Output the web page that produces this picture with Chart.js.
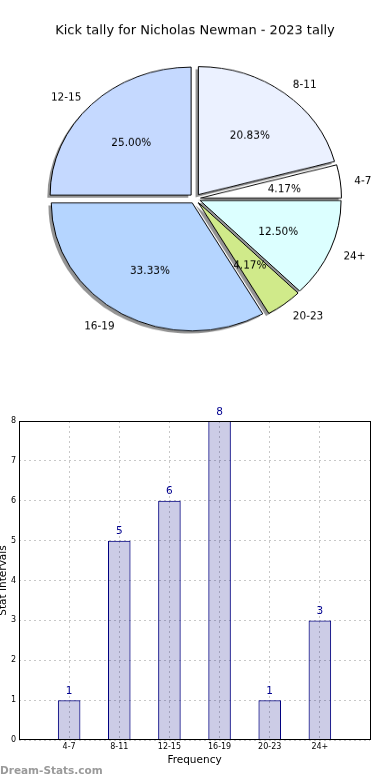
<!DOCTYPE html>
<html>
<head>
<meta charset="utf-8">
<script src="https://cdn.jsdelivr.net/npm/chart.js@4.4.1/dist/chart.umd.min.js"></script>
<style>
  html, body { margin: 0; padding: 0; background: #fff; width: 390px; height: 780px; overflow: hidden; position: relative; }
  #pieWrap { position: absolute; left: 0; top: 17.4px; width: 390px; height: 400px; transform: scaleY(0.908); transform-origin: 0 0; }
  #barWrap { position: absolute; left: 0; top: 400px; width: 390px; height: 380px; }
  #mark { position: absolute; left: 0; top: 764px; font: bold 10.5px "DejaVu Sans"; line-height: 12px; color: #9a9a9a; }
</style>
</head>
<body>
<div id="pieWrap"><canvas id="pieChart" width="390" height="400"></canvas></div>
<div id="barWrap"><canvas id="barChart" width="390" height="380"></canvas></div>
<div id="mark">Dream-Stats.com</div>

<script>
// Data
const chartTitle = 'Kick tally for Nicholas Newman - 2023 tally';
const categories = ['4-7', '8-11', '12-15', '16-19', '20-23', '24+'];
const kickCounts = [1, 5, 6, 8, 1, 3];
const pieColors = ['#ffffff', '#ebf1ff', '#c5d9ff', '#b5d5ff', '#d0ea8a', '#dcffff'];
const yTicks = [0, 1, 2, 3, 4, 5, 6, 7, 8];

const FONT = '"DejaVu Sans", "Liberation Sans", sans-serif';

// Pie is drawn counter-clockwise from east in the original, so reverse for Chart.js
const pieLabels = categories.slice().reverse();
const pieValues = kickCounts.slice().reverse();
const pieFill = pieColors.slice().reverse();
const total = kickCounts.reduce((s, v) => s + v, 0);

// the pie canvas gets squashed vertically by css, text is un-squashed when drawn
const ySquash = 128 / 141;
const explode = 5.5;
const shadowShift = 2.8;
const textDrop = 2.2;

function flatText(ctx, text, x, y) {
  ctx.save();
  ctx.translate(x, y);
  ctx.scale(1, 1 / ySquash);
  ctx.fillText(text, 0, 0);
  ctx.restore();
}

const pieExtras = {
  id: 'pieExtras',
  afterDatasetUpdate(chart) {
    // explode every wedge a little along its middle angle
    chart.getDatasetMeta(0).data.forEach((arc) => {
      const mid = (arc.startAngle + arc.endAngle) / 2;
      arc.x += explode * Math.cos(mid);
      arc.y += explode * Math.sin(mid);
    });
  },
  beforeDatasetsDraw(chart) {
    const ctx = chart.ctx;
    ctx.save();
    ctx.fillStyle = 'rgba(0,0,0,0.42)';
    chart.getDatasetMeta(0).data.forEach((arc) => {
      const x = arc.x - shadowShift, y = arc.y + shadowShift;
      ctx.beginPath();
      ctx.moveTo(x, y);
      ctx.arc(x, y, arc.outerRadius, arc.startAngle, arc.endAngle);
      ctx.closePath();
      ctx.fill();
    });
    ctx.restore();
  },
  afterDatasetsDraw(chart) {
    const ctx = chart.ctx;
    ctx.save();
    ctx.fillStyle = '#000';
    ctx.textBaseline = 'middle';

    ctx.font = '13px ' + FONT;
    ctx.textAlign = 'center';
    flatText(ctx, chartTitle, 195, 15);

    ctx.font = '10.5px ' + FONT;
    chart.getDatasetMeta(0).data.forEach((arc, i) => {
      const mid = (arc.startAngle + arc.endAngle) / 2;
      const r = arc.outerRadius;
      const c = Math.cos(mid), s = Math.sin(mid);
      ctx.textAlign = c > 0 ? 'left' : 'right';
      flatText(ctx, pieLabels[i], arc.x + 1.1 * r * c, arc.y + 1.1 * r * s + textDrop);
      ctx.textAlign = 'center';
      const pct = (pieValues[i] / total * 100).toFixed(2) + '%';
      flatText(ctx, pct, arc.x + 0.6 * r * c, arc.y + 0.6 * r * s + textDrop);
    });
    ctx.restore();
  }
};

new Chart(document.getElementById('pieChart'), {
  type: 'pie',
  data: {
    labels: pieLabels,
    datasets: [{
      data: pieValues,
      backgroundColor: pieFill,
      borderColor: '#000',
      borderWidth: 1
    }]
  },
  options: {
    responsive: false,
    animation: false,
    events: [],
    rotation: 90,
    radius: 141,
    layout: { padding: 0 },
    plugins: { legend: { display: false }, tooltip: { enabled: false } }
  },
  plugins: [pieExtras]
});

// Bar chart
const barLabels = ['', ...categories, ''];
const barData = [null, ...kickCounts, null];

const barExtras = {
  id: 'barExtras',
  afterDatasetsDraw(chart) {
    const ctx = chart.ctx;
    ctx.save();
    ctx.font = '10.5px ' + FONT;
    ctx.fillStyle = '#000090';
    ctx.textAlign = 'center';
    ctx.textBaseline = 'middle';
    chart.getDatasetMeta(0).data.forEach((bar, i) => {
      if (barData[i] == null) return;
      ctx.fillText(String(barData[i]), bar.x, bar.y - 9);
    });
    ctx.restore();
  },
  afterDraw(chart) {
    const a = chart.chartArea;
    const ctx = chart.ctx;
    ctx.save();
    ctx.strokeStyle = '#000';
    ctx.lineWidth = 1;
    ctx.strokeRect(a.left + 0.5, a.top + 0.5, a.right - a.left, a.bottom - a.top - 1);
    ctx.restore();
  }
};

new Chart(document.getElementById('barChart'), {
  type: 'bar',
  data: {
    labels: barLabels,
    datasets: [{
      data: barData,
      backgroundColor: 'rgba(0,0,128,0.2)',
      borderColor: '#000080',
      borderWidth: 1,
      barPercentage: 0.45,
      categoryPercentage: 1
    }]
  },
  options: {
    responsive: false,
    animation: false,
    events: [],
    layout: { padding: { left: 0, right: 20, top: 21, bottom: 0 } },
    plugins: { legend: { display: false }, tooltip: { enabled: false } },
    scales: {
      x: {
        offset: false,
        grid: { offset: false, color: '#c8c8c8', drawTicks: false },
        border: { display: false, dash: [2, 3] },
        ticks: { autoSkip: false, maxRotation: 0, padding: 2, color: '#000', font: { family: FONT, size: 8 } },
        title: { display: true, text: 'Frequency', color: '#000', font: { family: FONT, size: 10.5 }, padding: { top: 0, bottom: 13.7 } },
        afterFit(scale) { scale.height = 40; }
      },
      y: {
        min: yTicks[0],
        max: yTicks[yTicks.length - 1],
        grid: { color: '#c8c8c8', drawTicks: false },
        border: { display: false, dash: [2, 3] },
        ticks: { stepSize: 1, padding: 3, color: '#000', font: { family: FONT, size: 8 } },
        title: { display: true, text: 'Stat Intervals', color: '#000', font: { family: FONT, size: 10.5, lineHeight: 0.5 }, padding: { top: 0.5, bottom: 0 } },
        afterFit(scale) { scale.width = 19; }
      }
    }
  },
  plugins: [barExtras]
});
</script>
</body>
</html>
